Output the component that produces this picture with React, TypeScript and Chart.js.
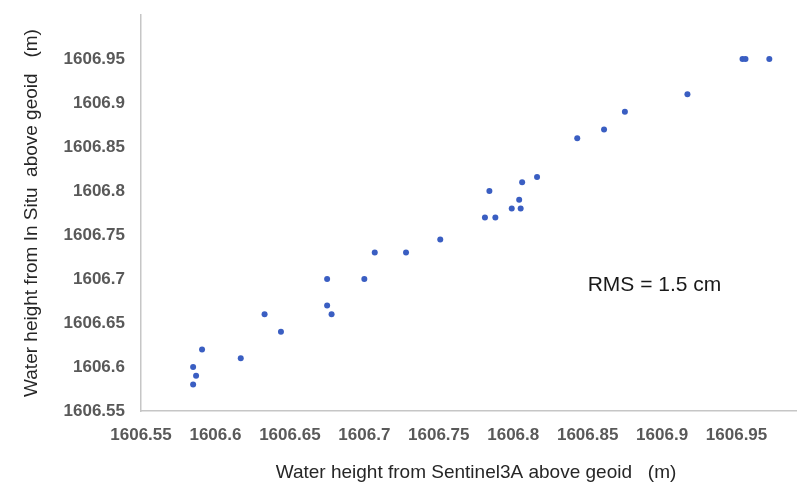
import React, { useEffect, useRef } from "react";
import { Chart, registerables } from "chart.js";

Chart.register(...registerables);

const sentinelHeights = [
  1606.585, 1606.587, 1606.585, 1606.591, 1606.617, 1606.633, 1606.644, 1606.675,
  1606.675, 1606.678, 1606.7, 1606.707, 1606.728, 1606.751, 1606.781, 1606.788,
  1606.784, 1606.799, 1606.805, 1606.804, 1606.806, 1606.816, 1606.843, 1606.861,
  1606.875, 1606.917, 1606.954, 1606.956, 1606.972,
];
const inSituHeights = [
  1606.58, 1606.59, 1606.6, 1606.62, 1606.61, 1606.66, 1606.64, 1606.7,
  1606.67, 1606.66, 1606.7, 1606.73, 1606.73, 1606.745, 1606.77, 1606.77,
  1606.8, 1606.78, 1606.78, 1606.79, 1606.81, 1606.816, 1606.86, 1606.87,
  1606.89, 1606.91, 1606.95, 1606.95, 1606.95,
];
const xTicks = [1606.55, 1606.6, 1606.65, 1606.7, 1606.75, 1606.8, 1606.85, 1606.9, 1606.95];
const yTicks = [1606.55, 1606.6, 1606.65, 1606.7, 1606.75, 1606.8, 1606.85, 1606.9, 1606.95];
const xTitle = "Water height from Sentinel3A above geoid   (m)";
const yTitle = "Water height from In Situ  above geoid   (m)";
const rmsText = "RMS = 1.5 cm";
const rmsAnchor = { x: 1606.85, y: 1606.693 };

const FONT = "'Liberation Sans', Arial, sans-serif";
const CANVAS_W = 830;
const CANVAS_H = 485;

export default function App() {
  const ref = useRef<HTMLCanvasElement | null>(null);

  useEffect(() => {
    const canvas = ref.current;
    if (!canvas) return;
    const rmsPlugin = {
      id: "rmsLabel",
      afterDatasetsDraw(chart: any) {
        const { ctx, scales } = chart;
        const px = scales.x.getPixelForValue(rmsAnchor.x);
        const py = scales.y.getPixelForValue(rmsAnchor.y);
        ctx.save();
        ctx.font = `21px ${FONT}`;
        ctx.fillStyle = "#1a1a1a";
        ctx.textAlign = "left";
        ctx.textBaseline = "middle";
        ctx.fillText(rmsText, px, py);
        ctx.restore();
      },
    };
    const chart = new Chart(canvas, {
      type: "scatter",
      data: {
        datasets: [
          {
            data: sentinelHeights.map((x, i) => ({ x, y: inSituHeights[i] })),
            backgroundColor: "#3a5ec2",
            borderColor: "#3a5ec2",
            borderWidth: 0,
            pointRadius: 3,
          },
        ],
      },
      options: {
        animation: false,
        responsive: false,
        devicePixelRatio: 1,
        layout: { padding: { top: 15, left: 0, right: CANVAS_W - 811, bottom: 0 } },
        plugins: { legend: { display: false }, tooltip: { enabled: false } },
        scales: {
          x: {
            type: "linear",
            min: 1606.55,
            max: 1607.0,
            afterBuildTicks: (s: any) => {
              s.ticks = xTicks.map((v) => ({ value: v }));
            },
            afterFit: (s: any) => {
              s.height = 74;
              s.paddingLeft = 0;
              s.paddingRight = 0;
            },
            grid: { drawOnChartArea: false, drawTicks: false },
            border: { display: true, color: "#c6c6c6", width: 1.5 },
            ticks: {
              padding: 14,
              maxRotation: 0,
              autoSkip: false,
              color: "#595959",
              font: { family: FONT, size: 17, weight: "bold" },
              callback: (v: any) => String(v),
            },
            title: {
              display: true,
              text: xTitle,
              color: "#262626",
              font: { family: FONT, size: 19 },
              padding: { top: 0, bottom: 1 },
            },
          },
          y: {
            type: "linear",
            min: 1606.55,
            max: 1607.0,
            afterBuildTicks: (s: any) => {
              s.ticks = yTicks.map((v) => ({ value: v }));
            },
            afterFit: (s: any) => {
              s.width = 141;
              s.paddingTop = 0;
              s.paddingBottom = 0;
            },
            grid: { drawOnChartArea: false, drawTicks: false },
            border: { display: true, color: "#c6c6c6", width: 1.5 },
            ticks: {
              padding: 16,
              autoSkip: false,
              color: "#595959",
              font: { family: FONT, size: 17, weight: "bold" },
              callback: (v: any) => String(v),
            },
            title: {
              display: true,
              text: yTitle,
              color: "#262626",
              font: { family: FONT, size: 19 },
              padding: { top: 20, bottom: 0 },
            },
          },
        },
      },
      plugins: [rmsPlugin],
    } as any);
    return () => chart.destroy();
  }, []);

  return (
    <div
      style={{
        position: "fixed",
        left: 0,
        top: 0,
        width: 797,
        height: 485,
        overflow: "hidden",
        background: "#ffffff",
      }}
    >
      <canvas ref={ref} width={CANVAS_W} height={CANVAS_H} style={{ display: "block" }} />
    </div>
  );
}
